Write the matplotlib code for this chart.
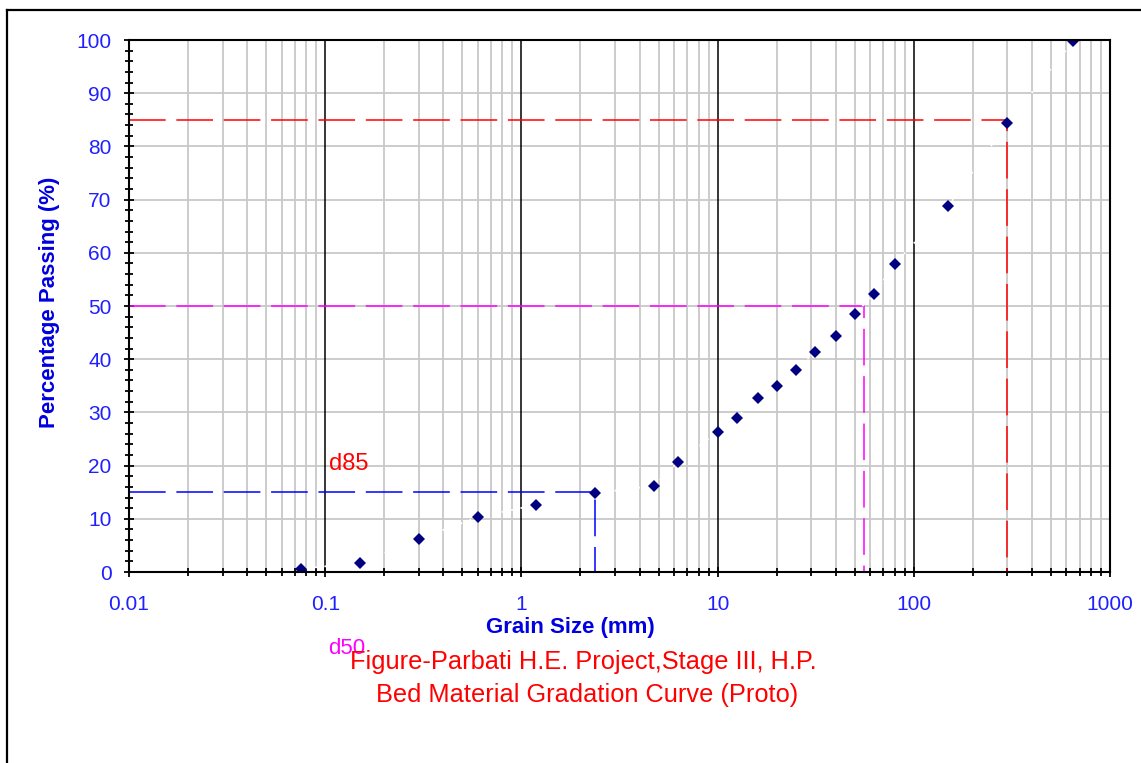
"""
Bed material gradation curve (Parbati H.E. Project, Stage III).
"""

import matplotlib
matplotlib.use('Agg')
import matplotlib.pyplot as plt
from matplotlib.lines import Line2D
from matplotlib.ticker import FixedLocator, NullFormatter, FuncFormatter

plt.rcParams['font.family'] = ['Liberation Sans', 'DejaVu Sans']

# Sieve sizes (mm) and percentage passing
grain_size = [0.075, 0.15, 0.3, 0.6, 1.18, 2.36, 4.75, 6.3, 10, 12.5, 16, 20,
              25, 31.5, 40, 50, 63, 80, 150, 300, 650]
pct_passing = [0.6, 1.7, 6.2, 10.3, 12.6, 14.8, 16.2, 20.7, 26.3, 29.0, 32.7, 35.0,
               38.0, 41.4, 44.4, 48.5, 52.3, 57.9, 68.8, 84.4, 99.8]

# Characteristic sizes d15 / d50 / d85
d_sizes = [2.36, 55.6, 300]
d_pcts = [15, 50, 85]
d_colors = ['blue', 'magenta', 'red']

x_major = [0.01, 0.1, 1, 10, 100, 1000]
x_labels = ['0.01', '0.1', '1', '10', '100', '1000']
y_major = list(range(0, 101, 10))
y_minor = list(range(0, 101, 2))

W, H = 1141, 763
fig = plt.figure(figsize=(W / 100, H / 100), dpi=100)
fig.patch.set_facecolor('white')

ax = fig.add_axes([129 / W, 1 - 572 / H, (1110 - 129) / W, (572 - 40) / H])
ax.set_xscale('log')
ax.set_xlim(0.01, 1000)
ax.set_ylim(0, 100)

# Grid: grey minor verticals, black decade verticals, grey horizontals
minor_x = [m * 10.0 ** e for e in range(-2, 3) for m in range(2, 10)]
for xv in minor_x:
    ax.axvline(xv, color='#c8c8c8', lw=1.3, zorder=1)
for xv in x_major[1:-1]:
    ax.axvline(xv, color='black', lw=1.1, zorder=1.5)
for yv in y_major[1:-1]:
    ax.axhline(yv, color='#c8c8c8', lw=1.3, zorder=1)

# Guide lines for d15 / d50 / d85
for xd, yd, c in zip(d_sizes, d_pcts, d_colors):
    ax.plot([0.01, xd, xd], [yd, yd, 0], color=c, lw=1.1,
            dashes=(24, 7), zorder=3, clip_on=False)

# Faint white dotted curve through the points, then the points themselves
ax.plot(grain_size, pct_passing, ':', color='white', lw=1.3, zorder=4)
ax.plot(grain_size, pct_passing, 'D', color='#000080', ms=6.5, mew=0, zorder=5)

ax.text(0.105, 20.3, 'd85', color='red', fontsize=17, ha='left', va='center')
ax.text(0.104, -14.4, 'd50', color='magenta', fontsize=16, ha='left', va='center',
        clip_on=False)

# Ticks
ax.xaxis.set_major_locator(FixedLocator(x_major))
ax.xaxis.set_major_formatter(FuncFormatter(lambda v, p: x_labels[x_major.index(v)]
                                           if v in x_major else ''))
ax.xaxis.set_minor_locator(FixedLocator(minor_x))
ax.xaxis.set_minor_formatter(NullFormatter())
ax.yaxis.set_major_locator(FixedLocator(y_major))
ax.yaxis.set_minor_locator(FixedLocator(y_minor))

ax.tick_params(which='major', direction='inout', length=7, width=1.3,
               color='black', labelcolor='#2020ff', labelsize=15)
ax.tick_params(which='minor', direction='inout', length=5.5, width=1.3, color='black')
ax.tick_params(axis='x', which='major', pad=13)
ax.tick_params(axis='y', which='major', pad=9)

for s in ax.spines.values():
    s.set_color('black')
    s.set_linewidth(1.5)
    s.set_zorder(6)

# Axis titles and figure caption
fig.text(570 / W, 1 - 627 / H, 'Grain Size (mm)', color='#0000e0', fontsize=16,
         fontweight='bold', ha='center', va='center')
fig.text(50 / W, 1 - 302 / H, 'Percentage Passing (%)', color='#0000e0', fontsize=16,
         fontweight='bold', ha='center', va='center', rotation=90)
fig.text(583 / W, 1 - 662 / H, 'Figure-Parbati H.E. Project,Stage III, H.P.',
         color='red', fontsize=18.3, ha='center', va='center')
fig.text(587 / W, 1 - 695 / H, 'Bed Material Gradation Curve (Proto)',
         color='red', fontsize=18.3, ha='center', va='center')

# Outer frame (left and top edges visible)
fig.add_artist(Line2D([7 / W, 7 / W], [0, 1 - 10 / H], color='black', lw=1.6,
                      transform=fig.transFigure))
fig.add_artist(Line2D([7 / W, 1], [1 - 10 / H, 1 - 10 / H], color='black', lw=1.6,
                      transform=fig.transFigure))

fig.savefig('out.png', dpi=100)
